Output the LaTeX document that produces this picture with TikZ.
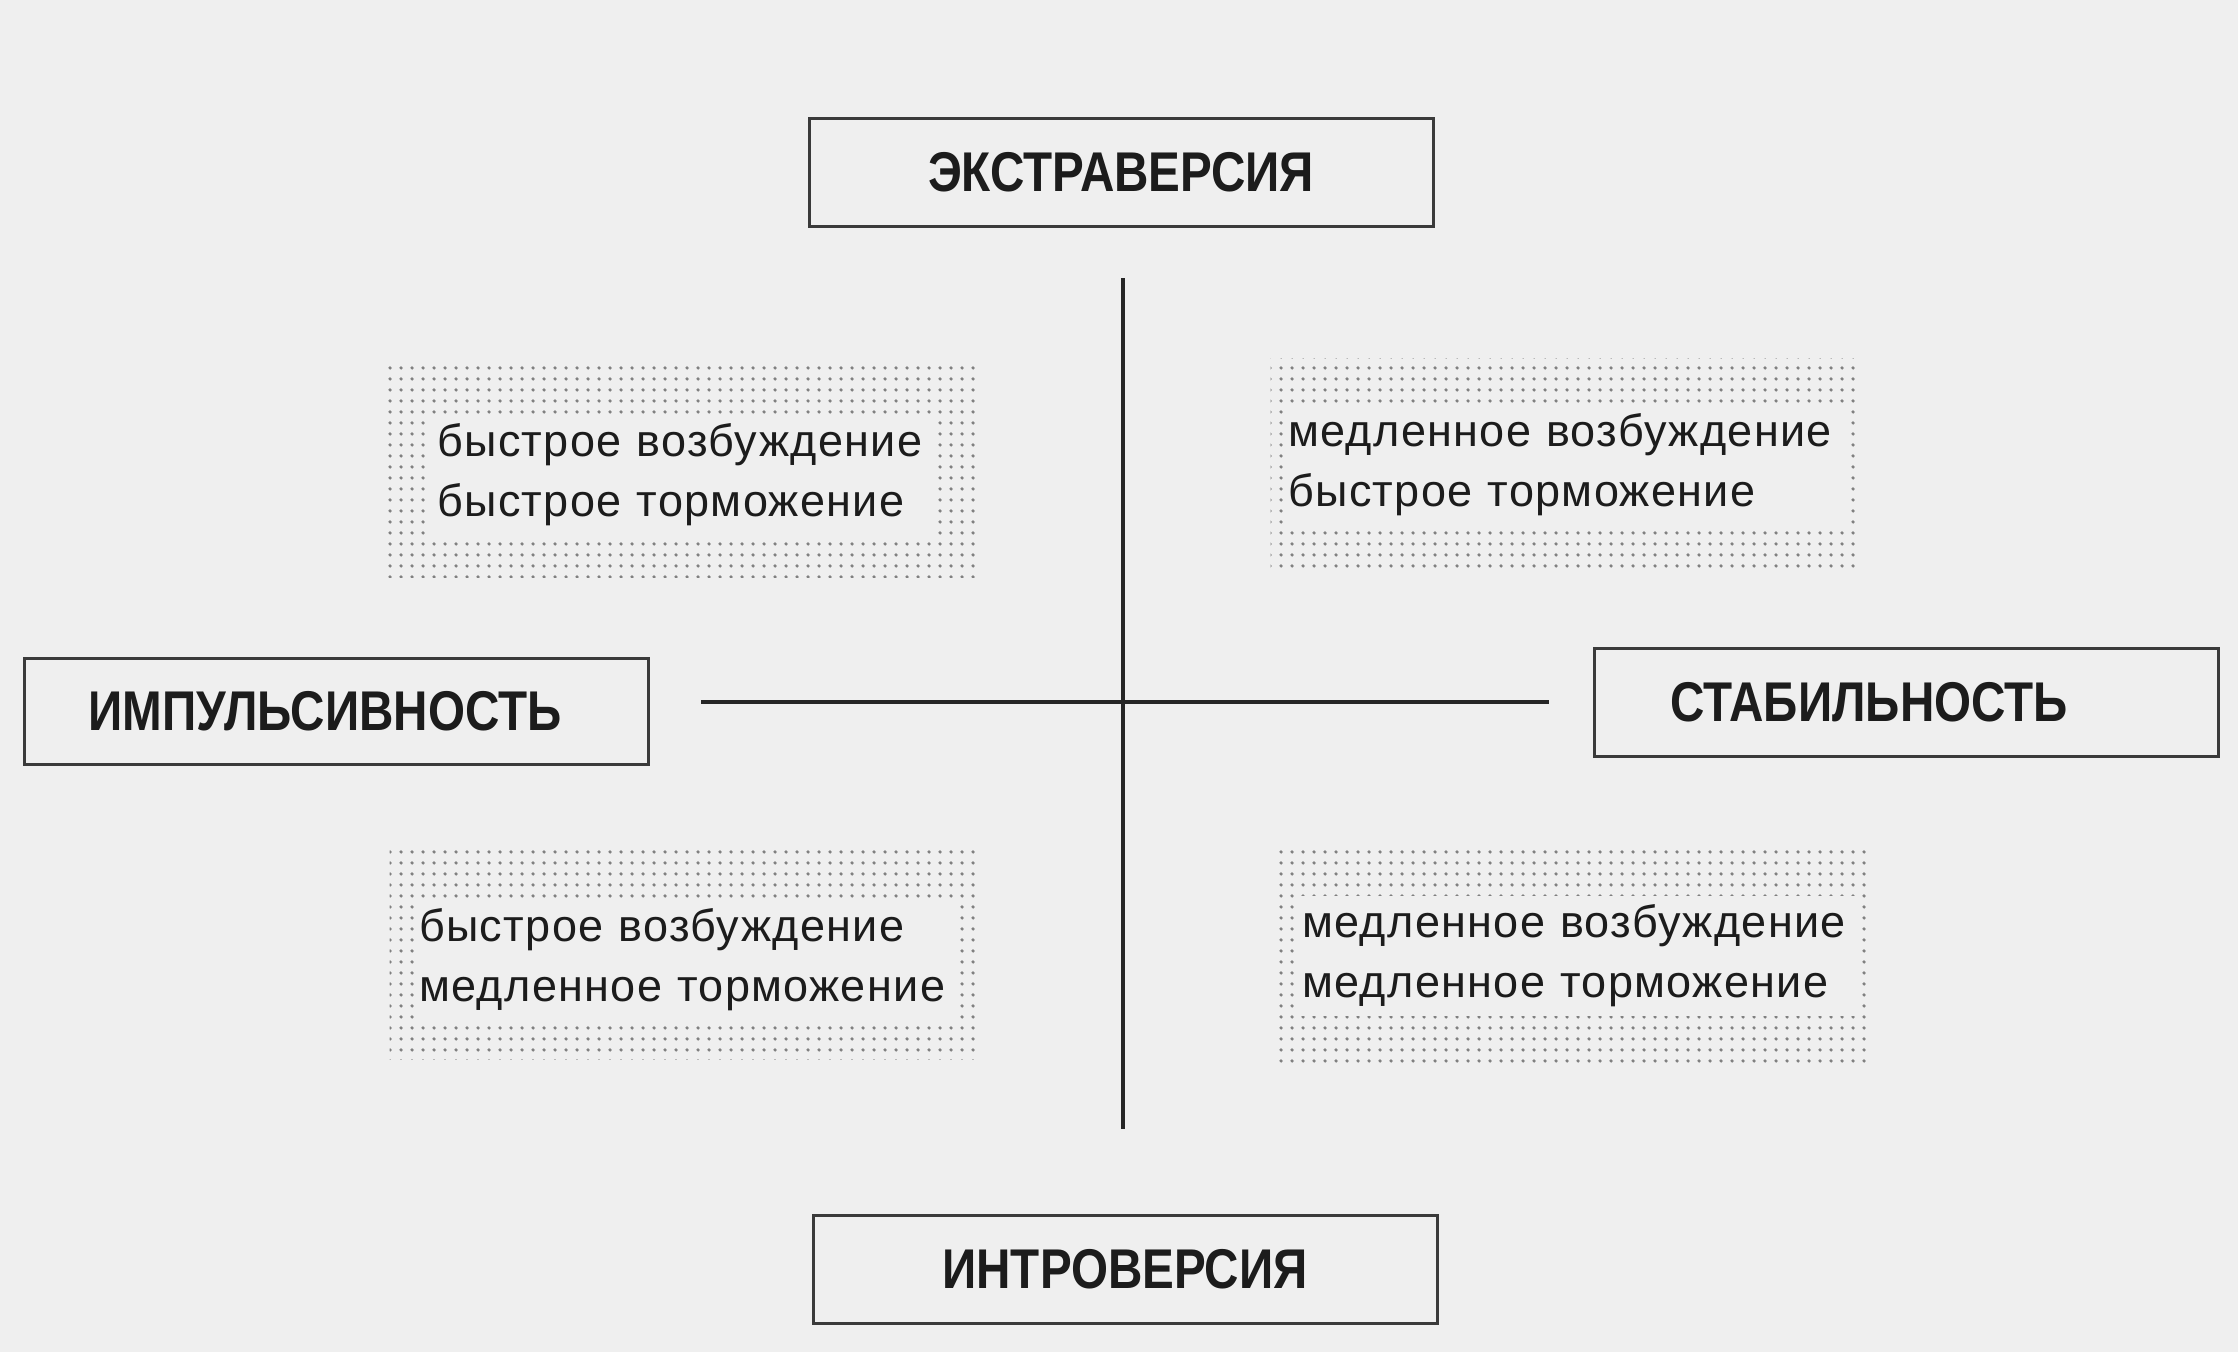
\documentclass[tikz,border=0pt]{standalone}
\usepackage{fontspec}
\setmainfont{Liberation Sans}
\newfontfamily\lblfont{Liberation Sans}[FakeStretch=0.85]
\newfontfamily\bodyfont{Liberation Sans}[LetterSpace=3]
\usetikzlibrary{patterns.meta}
\definecolor{bg}{HTML}{EFEFEF}
\definecolor{frame}{HTML}{3A3A3A}
\definecolor{ink}{HTML}{1C1C1C}
\definecolor{axis}{HTML}{262626}
\definecolor{dotc}{HTML}{808080}
\tikzdeclarepattern{name=gdots, type=uncolored,
  bounding box={(0pt,0pt) and (11pt,11pt)}, tile size={(11pt,11pt)},
  code={\fill (5.5pt,5.5pt) circle (2pt);}}
\begin{document}
\begin{tikzpicture}[x=1pt,y=-1pt,
  lbl/.style={draw=frame, line width=3pt, fill=bg, minimum width=624pt, minimum height=108pt,
    inner sep=0pt, text=ink, font=\lblfont\bfseries\fontsize{56}{60}\selectfont},
  dotbox/.style={pattern=gdots, pattern color=dotc, inner sep=0pt, minimum width=590pt, minimum height=214pt},
  qtext/.style={fill=bg, inner ysep=0pt, align=left, text=ink, anchor=west, minimum height=120pt,
    font=\bodyfont\fontsize{45}{60}\selectfont},
  axisline/.style={draw=axis, line width=4pt}]
\useasboundingbox[fill=bg] (0,0) rectangle (2238,1352);

% axes
\coordinate (vt) at (1123,278);
\coordinate (vb) at (1123,1129);
\coordinate (hl) at (701,702);
\coordinate (hr) at (1549,702);
\draw[axisline] (vt) -- (vb);
\draw[axisline] (hl) -- (hr);

% pole labels
\node[lbl] (extra) at (1121,172) {ЭКСТРАВЕРСИЯ};
\node[lbl] (intro) at (1125,1269) {ИНТРОВЕРСИЯ};
\node[lbl, minimum height=106pt] (impuls) at (336,711) {ИМПУЛЬСИВНОСТЬ\hspace*{22pt}};
\node[lbl] (stab) at (1906,702) {СТАБИЛЬНОСТЬ\hspace*{74pt}};

% quadrants
\node[dotbox] (tlbox) at (681,470.5) {};
\node[qtext, inner xsep=5pt, text width=494pt] (tltext) at (432,475)
  {быстрое возбуждение\\быстрое торможение};

\node[dotbox, minimum height=216pt] (trbox) at (1565.5,466) {};
\node[qtext, inner xsep=3pt, text width=560pt] (trtext) at (1285,465)
  {медленное возбуждение\\быстрое торможение};

\node[dotbox] (blbox) at (684.5,952) {};
\node[qtext, inner xsep=3pt, text width=534pt] (bltext) at (416,960)
  {быстрое возбуждение\\медленное торможение};

\node[dotbox] (brbox) at (1573.5,955.5) {};
\node[qtext, inner xsep=8pt, text width=548pt] (brtext) at (1294,956)
  {медленное возбуждение\\медленное торможение};
\end{tikzpicture}
\end{document}
